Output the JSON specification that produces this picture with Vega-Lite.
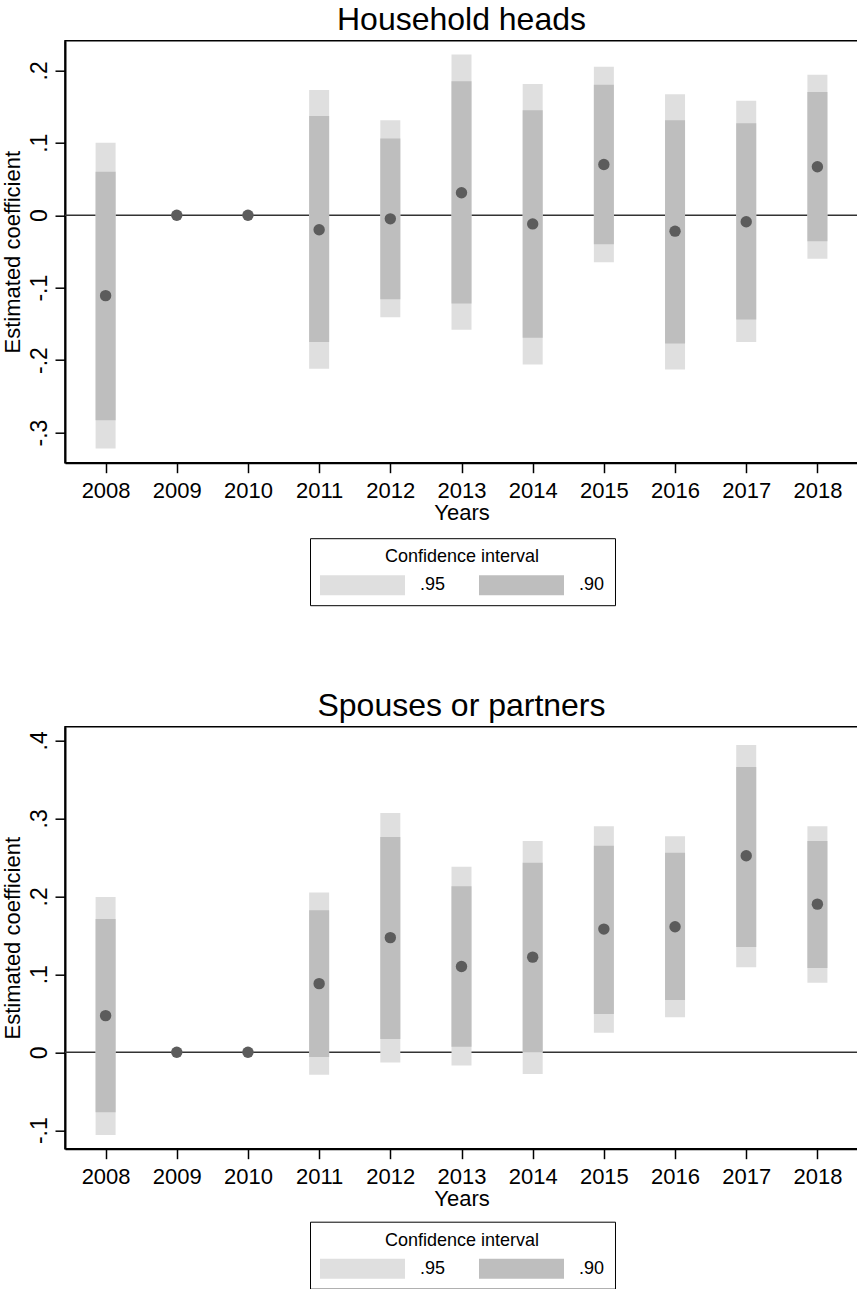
{
  "$schema": "https://vega.github.io/schema/vega-lite/v6.json",
  "padding": {"left": 0, "top": 2.7, "right": 0, "bottom": 0},
  "background": "white",
  "datasets": {
    "heads": [
      {"year": 2008, "coef": -0.111, "lo95": -0.322, "hi95": 0.100, "lo90": -0.283, "hi90": 0.060},
      {"year": 2009, "coef": 0},
      {"year": 2010, "coef": 0},
      {"year": 2011, "coef": -0.020, "lo95": -0.212, "hi95": 0.173, "lo90": -0.175, "hi90": 0.137},
      {"year": 2012, "coef": -0.005, "lo95": -0.141, "hi95": 0.131, "lo90": -0.116, "hi90": 0.106},
      {"year": 2013, "coef": 0.031, "lo95": -0.158, "hi95": 0.222, "lo90": -0.122, "hi90": 0.185},
      {"year": 2014, "coef": -0.012, "lo95": -0.206, "hi95": 0.181, "lo90": -0.169, "hi90": 0.145},
      {"year": 2015, "coef": 0.070, "lo95": -0.065, "hi95": 0.205, "lo90": -0.040, "hi90": 0.180},
      {"year": 2016, "coef": -0.022, "lo95": -0.213, "hi95": 0.167, "lo90": -0.177, "hi90": 0.131},
      {"year": 2017, "coef": -0.009, "lo95": -0.175, "hi95": 0.158, "lo90": -0.144, "hi90": 0.127},
      {"year": 2018, "coef": 0.067, "lo95": -0.060, "hi95": 0.194, "lo90": -0.036, "hi90": 0.170}
    ],
    "spouses": [
      {"year": 2008, "coef": 0.047, "lo95": -0.106, "hi95": 0.199, "lo90": -0.077, "hi90": 0.171},
      {"year": 2009, "coef": 0},
      {"year": 2010, "coef": 0},
      {"year": 2011, "coef": 0.088, "lo95": -0.029, "hi95": 0.205, "lo90": -0.006, "hi90": 0.182},
      {"year": 2012, "coef": 0.147, "lo95": -0.013, "hi95": 0.307, "lo90": 0.017, "hi90": 0.276},
      {"year": 2013, "coef": 0.110, "lo95": -0.017, "hi95": 0.238, "lo90": 0.007, "hi90": 0.213},
      {"year": 2014, "coef": 0.122, "lo95": -0.028, "hi95": 0.271, "lo90": 0.000, "hi90": 0.243},
      {"year": 2015, "coef": 0.158, "lo95": 0.025, "hi95": 0.290, "lo90": 0.049, "hi90": 0.265},
      {"year": 2016, "coef": 0.161, "lo95": 0.045, "hi95": 0.277, "lo90": 0.067, "hi90": 0.256},
      {"year": 2017, "coef": 0.252, "lo95": 0.109, "hi95": 0.394, "lo90": 0.135, "hi90": 0.366},
      {"year": 2018, "coef": 0.190, "lo95": 0.089, "hi95": 0.290, "lo90": 0.108, "hi90": 0.271}
    ],
    "zero": [{"ref": 0}]
  },
  "bounds": "flush",
  "spacing": 264,
  "resolve": {
    "scale": {"x": "independent", "y": "independent", "color": "independent"},
    "legend": {"color": "independent"}
  },
  "vconcat": [
    {
      "width": 793,
      "height": 422,
      "title": {"text": "Household heads"},
      "layer": [
        {
          "data": {"name": "zero"},
          "mark": {"type": "rule", "color": "#333333", "strokeWidth": 1.6},
          "encoding": {"y": {"field": "ref", "type": "quantitative"}}
        },
        {
          "data": {"name": "heads"},
          "mark": {"type": "bar", "size": 20},
          "encoding": {
            "x": {"field": "year", "type": "quantitative",
                  "scale": {"domain": [2007.5, 2018.5], "nice": false, "zero": false},
                  "axis": {"values": [2008, 2009, 2010, 2011, 2012, 2013, 2014, 2015, 2016, 2017, 2018], "format": "d", "title": "Years"}},
            "y": {"field": "lo95", "type": "quantitative",
                  "scale": {"domain": [-0.3416, 0.2409], "nice": false, "zero": false},
                  "axis": {"values": [-0.3, -0.2, -0.1, 0, 0.1, 0.2], "title": "Estimated coefficient"}},
            "y2": {"field": "hi95"},
            "color": {"datum": ".95", "type": "nominal",
                      "scale": {"domain": [".95", ".90"], "range": ["#dfdfdf", "#bebebe"]},
                      "legend": {"title": "Confidence interval", "orient": "none", "legendX": 245, "legendY": 497.5}}
          }
        },
        {
          "data": {"name": "heads"},
          "mark": {"type": "bar", "size": 20},
          "encoding": {
            "x": {"field": "year", "type": "quantitative"},
            "y": {"field": "lo90", "type": "quantitative"},
            "y2": {"field": "hi90"},
            "color": {"datum": ".90", "type": "nominal"}
          }
        },
        {
          "data": {"name": "heads"},
          "mark": {"type": "point", "filled": true, "size": 130, "color": "#5c5c5c", "opacity": 1},
          "encoding": {
            "x": {"field": "year", "type": "quantitative"},
            "y": {"field": "coef", "type": "quantitative"}
          }
        }
      ]
    },
    {
      "width": 793,
      "height": 422,
      "title": {"text": "Spouses or partners"},
      "layer": [
        {
          "data": {"name": "zero"},
          "mark": {"type": "rule", "color": "#333333", "strokeWidth": 1.6},
          "encoding": {"y": {"field": "ref", "type": "quantitative"}}
        },
        {
          "data": {"name": "spouses"},
          "mark": {"type": "bar", "size": 20},
          "encoding": {
            "x": {"field": "year", "type": "quantitative",
                  "scale": {"domain": [2007.5, 2018.5], "nice": false, "zero": false},
                  "axis": {"values": [2008, 2009, 2010, 2011, 2012, 2013, 2014, 2015, 2016, 2017, 2018], "format": "d", "title": "Years"}},
            "y": {"field": "lo95", "type": "quantitative",
                  "scale": {"domain": [-0.1237, 0.4176], "nice": false, "zero": false},
                  "axis": {"values": [-0.1, 0, 0.1, 0.2, 0.3, 0.4], "title": "Estimated coefficient"}},
            "y2": {"field": "hi95"},
            "color": {"datum": ".95", "type": "nominal",
                      "scale": {"domain": [".95", ".90"], "range": ["#dfdfdf", "#bebebe"]},
                      "legend": {"title": "Confidence interval", "orient": "none", "legendX": 245, "legendY": 495}}
          }
        },
        {
          "data": {"name": "spouses"},
          "mark": {"type": "bar", "size": 20},
          "encoding": {
            "x": {"field": "year", "type": "quantitative"},
            "y": {"field": "lo90", "type": "quantitative"},
            "y2": {"field": "hi90"},
            "color": {"datum": ".90", "type": "nominal"}
          }
        },
        {
          "data": {"name": "spouses"},
          "mark": {"type": "point", "filled": true, "size": 130, "color": "#5c5c5c", "opacity": 1},
          "encoding": {
            "x": {"field": "year", "type": "quantitative"},
            "y": {"field": "coef", "type": "quantitative"}
          }
        }
      ]
    }
  ],
  "config": {
    "font": "Liberation Sans",
    "view": {"stroke": "black", "strokeWidth": 1.5},
    "title": {"fontSize": 32, "fontWeight": "normal", "color": "black", "anchor": "middle", "offset": 3.6},
    "axis": {
      "grid": false,
      "domainColor": "black", "domainWidth": 2,
      "tickColor": "black", "tickWidth": 1.5, "tickSize": 10,
      "labelColor": "black", "labelFontSize": 22, "labelOverlap": false, "labelFlush": false,
      "titleColor": "black", "titleFontSize": 22, "titleFontWeight": "normal"
    },
    "axisX": {"labelPadding": 8, "titlePadding": 1},
    "axisY": {
      "labelAngle": -90, "labelAlign": "center", "labelBaseline": "bottom", "labelPadding": 4,
      "labelFontSize": 23, "titlePadding": 4,
      "labelExpr": "datum.value == 0 ? '0' : (datum.value < 0 ? '-' : '') + replace(format(abs(datum.value), '.1f'), '0.', '.')"
    },
    "legend": {
      "direction": "horizontal",
      "titleAnchor": "middle",
      "titleFontSize": 18, "titleFontWeight": "normal", "titleColor": "black", "titlePadding": 9,
      "labelFontSize": 18, "labelColor": "black",
      "symbolType": "M-4.25,-1H4.25V1H-4.25Z", "symbolSize": 400, "symbolStrokeWidth": 0,
      "symbolOffset": 32.5, "labelOffset": 47.5, "columnPadding": 33,
      "padding": 10, "strokeColor": "black", "strokeWidth": 1
    }
  }
}
